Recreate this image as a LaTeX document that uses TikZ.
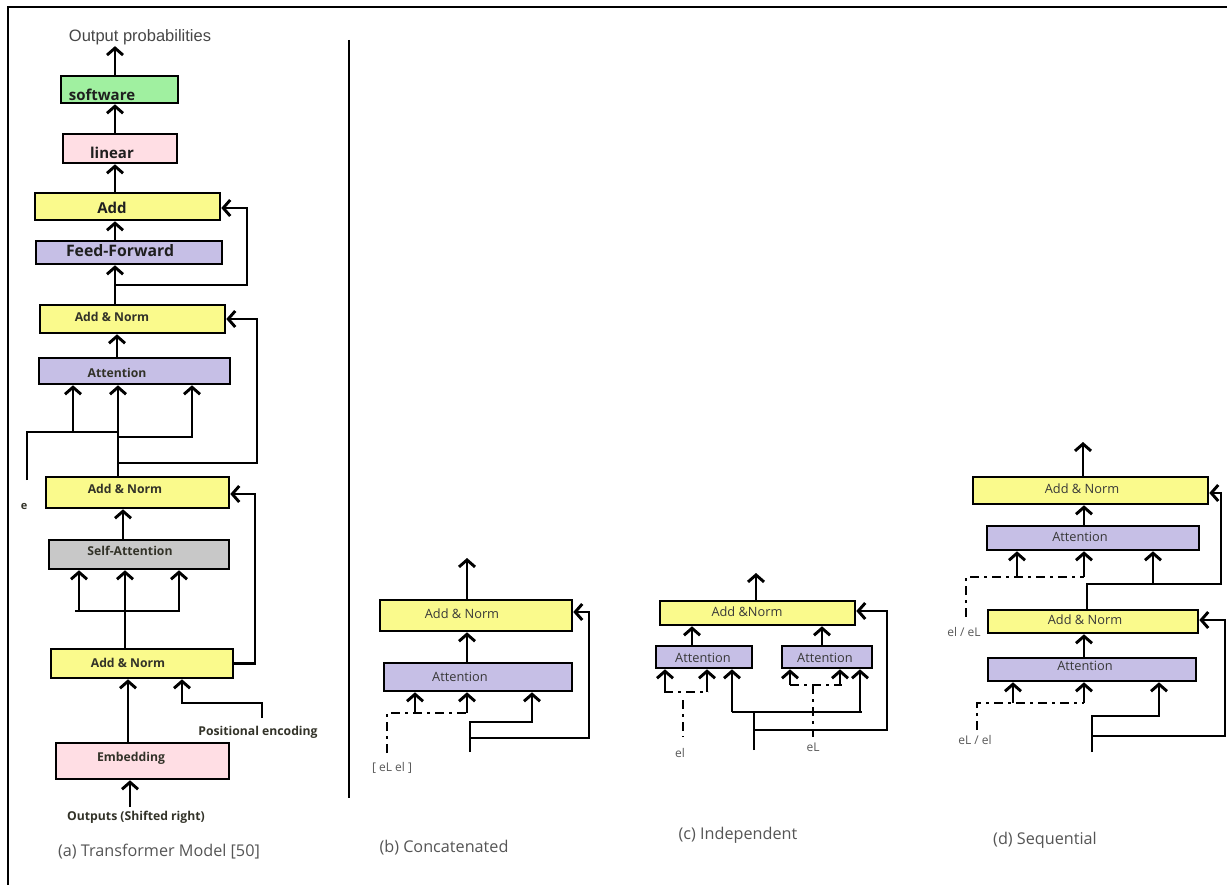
\documentclass[tikz,border=0pt]{standalone}
\usepackage{fontspec}
\setmainfont{Open Sans}
\newfontfamily\arialf{Liberation Sans}
\usetikzlibrary{arrows.meta}
\definecolor{cyel}{RGB}{250,250,140}
\definecolor{clav}{RGB}{198,191,230}
\definecolor{cpink}{RGB}{255,222,228}
\definecolor{cgreen}{RGB}{160,240,160}
\definecolor{cgray}{RGB}{200,200,200}
\definecolor{ctext}{RGB}{50,50,40}
\definecolor{ccap}{RGB}{85,85,85}
\begin{document}
\begin{tikzpicture}[x=1pt,y=-1pt,line width=2.9pt,
  box/.style={draw=black,line width=2.6pt,inner sep=0pt},
  lbl/.style={inner sep=0pt,text=ctext},
  bl/.style={lbl,font=\bfseries\fontsize{15}{17}\selectfont,text=black!88},
  bm/.style={lbl,font=\bfseries\fontsize{12.2}{14}\selectfont},
  rm/.style={lbl,font=\fontsize{12.8}{15}\selectfont,text=black!78},
  sm/.style={lbl,font=\fontsize{12}{14}\selectfont,text=black!65},
  captxt/.style={lbl,font=\fontsize{16.2}{18}\selectfont,text=ccap},
  arr/.style={-{Straight Barb[length=7pt,width=16pt]}},
  dsh/.style={dash pattern=on 9pt off 5pt on 3pt off 5pt}]
\useasboundingbox[fill=white] (0,0) rectangle (1227,885);
% frame and separator
\draw[line width=2.4pt] (8,885) -- (8,7) -- (1227,7);
\draw[line width=2.4pt] (349,40) -- (349,798);

% ---------- (a) ----------
\node[lbl,font=\arialf\fontsize{16.5}{18}\selectfont,text=black!72] (outp) at (140,37) {Output probabilities};
\node[box,fill=cgreen,minimum width=117pt,minimum height=27pt] (sw) at (119.5,89.5) {};
\node[bl] (swt) at (102,95) {software};
\node[box,fill=cpink,minimum width=114pt,minimum height=29pt] (lin) at (120,148.5) {};
\node[bl] (lint) at (112,153) {linear};
\node[box,fill=cyel,minimum width=185pt,minimum height=27pt] (add) at (127.5,206.5) {};
\node[bl] (addt) at (112,208) {Add};
\node[box,fill=clav,minimum width=186pt,minimum height=23pt] (ff) at (129,252.5) {};
\node[bl,font=\bfseries\fontsize{15.8}{17}\selectfont] (fft) at (120,251) {Feed-Forward};
\node[box,fill=cyel,minimum width=185pt,minimum height=28pt] (an1) at (132.5,319) {};
\node[bm] (an1t) at (112,317) {Add \& Norm};
\node[box,fill=clav,minimum width=191pt,minimum height=26pt] (att1) at (134.5,371) {};
\node[bm] (att1t) at (117,373) {Attention};
\node[box,fill=cyel,minimum width=183pt,minimum height=31pt] (an2) at (137.5,492.5) {};
\node[bm] (an2t) at (125,489) {Add \& Norm};
\node[box,fill=cgray,minimum width=180pt,minimum height=29pt] (sa) at (139,554.5) {};
\node[bm] (sat) at (130,551) {Self-Attention};
\node[box,fill=cyel,minimum width=182pt,minimum height=29pt] (an3) at (142,663.5) {};
\node[bm] (an3t) at (128,663) {Add \& Norm};
\node[box,fill=cpink,minimum width=173pt,minimum height=36pt] (emb) at (142.5,761) {};
\node[bm] (embt) at (131,758) {Embedding};
\node[lbl,font=\bfseries\fontsize{11}{13}\selectfont] (et) at (24,506) {e};
\node[bm] (post) at (258,732) {Positional encoding};
\node[bm] (outs) at (136,817) {Outputs (Shifted right)};
\node[captxt] (capa) at (159,852) {(a) Transformer Model [50]};

\draw[arr] (sw.north -| 115,0) -- (outp.south -| 115,0);
\draw[arr] (lin.north -| 115,0) -- (sw.south -| 115,0);
\draw[arr] (add.north -| 115,0) -- (lin.south -| 115,0);
\draw[arr] (ff.north -| 115,0) -- (add.south -| 115,0);
\draw[arr] (an1.north -| 115,0) -- (ff.south -| 115,0);
\draw[arr] (115,285) -- (247,285) -- (247,208) -- (add.east |- 0,208);
\draw[arr] (att1.north -| 117,0) -- (an1.south -| 117,0);
\draw[arr] (an2.north -| 118,0) -- (att1.south -| 118,0);
\draw[arr] (118,463) -- (257,463) -- (257,319) -- (an1.east |- 0,319);
\draw (27,480) -- (27,432) -- (118,432);
\draw[arr] (73,432) -- (att1.south -| 73,0);
\draw[arr] (118,437) -- (192,437) -- (att1.south -| 192,0);
\draw[arr] (sa.north -| 123,0) -- (an2.south -| 123,0);
\draw[arr] (an3.east) -- (255,663.5) -- (255,494) -- (an2.east |- 0,494);
\draw[arr] (an3.north -| 125,0) -- (sa.south -| 125,0);
\draw (75,611) -- (180,611);
\draw[arr] (79,611) -- (sa.south -| 79,0);
\draw[arr] (179,611) -- (sa.south -| 179,0);
\draw[arr] (emb.north -| 128,0) -- (an3.south -| 128,0);
\draw[arr] (262,718) -- (262,703) -- (182,703) -- (an3.south -| 182,0);
\draw[arr] (130,807) -- (emb.south -| 130,0);

% ---------- (b) ----------
\node[box,fill=cyel,minimum width=192pt,minimum height=31pt] (anb) at (476,615.5) {};
\node[rm] (anbt) at (462,614) {Add \& Norm};
\node[box,fill=clav,minimum width=188pt,minimum height=28pt] (attb) at (478,677) {};
\node[rm] (attbt) at (460,677) {Attention};
\node[sm] (eleb) at (392,768) {[ eL el ]};
\node[captxt] (capb) at (444,848) {(b) Concatenated};
\coordinate (outb) at (467,558);
\draw[arr] (anb.north -| 467,0) -- (outb);
\draw[arr] (attb.north -| 467,0) -- (anb.south -| 467,0);
\draw[dsh] (387,753) -- (387,713) -- (467,713);
\draw[arr] (415,713) -- (attb.south -| 415,0);
\draw[arr] (467,713) -- (attb.south -| 467,0);
\draw[arr] (470,752) -- (470,722) -- (532,722) -- (attb.south -| 532,0);
\draw[arr] (470,738) -- (589,738) -- (589,612) -- (anb.east |- 0,612);

% ---------- (c) ----------
\node[box,fill=cyel,minimum width=195pt,minimum height=24pt] (anc) at (757.5,613) {};
\node[rm] (anct) at (747,612) {Add \&Norm};
\node[box,fill=clav,minimum width=96pt,minimum height=22pt] (attl) at (704,657) {};
\node[rm] (attlt) at (703,658) {Attention};
\node[box,fill=clav,minimum width=90pt,minimum height=22pt] (attr) at (827,657) {};
\node[rm] (attrt) at (825,658) {Attention};
\node[sm] (elc) at (680,753) {el};
\node[sm] (eLc) at (813,747) {eL};
\node[captxt] (capc) at (738,835) {(c) Independent};
\coordinate (outc) at (756,573);
\draw[arr] (anc.north -| 756,0) -- (outc);
\draw[arr] (attl.north -| 692,0) -- (anc.south -| 692,0);
\draw[arr] (attr.north -| 822,0) -- (anc.south -| 822,0);
\draw[dsh] (664,692) -- (708,692);
\draw[dsh] (683,700) -- (683,737);
\draw[arr] (665,692) -- (attl.south -| 665,0);
\draw[arr] (707,692) -- (attl.south -| 707,0);
\draw[dsh] (790,685) -- (842,685);
\draw[dsh] (813,685) -- (813,737);
\draw[arr] (790,685) -- (attr.south -| 790,0);
\draw[arr] (840,685) -- (attr.south -| 840,0);
\draw (732,712) -- (862,712);
\draw[arr] (732,712) -- (attl.south -| 732,0);
\draw[arr] (860,712) -- (attr.south -| 860,0);
\draw (754,750) -- (754,712);
\draw[arr] (754,730) -- (887,730) -- (887,611) -- (anc.east |- 0,611);

% ---------- (d) ----------
\node[box,fill=cyel,minimum width=235pt,minimum height=27pt] (and1) at (1090.5,490.5) {};
\node[rm] (and1t) at (1082,489) {Add \& Norm};
\node[box,fill=clav,minimum width=212pt,minimum height=24pt] (attd1) at (1093,538) {};
\node[rm] (attd1t) at (1080,537) {Attention};
\node[box,fill=cyel,minimum width=210pt,minimum height=23pt] (and2) at (1093,621.5) {};
\node[rm] (and2t) at (1085,620) {Add \& Norm};
\node[box,fill=clav,minimum width=208pt,minimum height=23pt] (attd2) at (1092,669.5) {};
\node[rm] (attd2t) at (1085,666) {Attention};
\node[sm] (eld1) at (964,632) {el / eL};
\node[sm] (eld2) at (975,740) {eL / el};
\node[captxt] (capd) at (1045,840) {(d) Sequential};
\coordinate (outd) at (1083,442);
\draw[arr] (and1.north -| 1083,0) -- (outd);
\draw[arr] (attd1.north -| 1084,0) -- (and1.south -| 1084,0);
\draw[dsh] (966,617) -- (966,577) -- (1084,577);
\draw[arr] (1017,577) -- (attd1.south -| 1017,0);
\draw[arr] (1084,577) -- (attd1.south -| 1084,0);
\draw[arr] (and2.north -| 1087,0) -- (1087,584) -- (1221,584) -- (1221,493) -- (and1.east |- 0,493);
\draw[arr] (1153,584) -- (attd1.south -| 1153,0);
\draw[arr] (attd2.north -| 1084,0) -- (and2.south -| 1084,0);
\draw[dsh] (977,730) -- (977,703) -- (1084,703);
\draw[arr] (1013,703) -- (attd2.south -| 1013,0);
\draw[arr] (1084,703) -- (attd2.south -| 1084,0);
\draw[arr] (1092,752) -- (1092,716) -- (1159,716) -- (attd2.south -| 1159,0);
\draw[arr] (1092,736) -- (1225,736) -- (1225,620) -- (and2.east |- 0,620);
\end{tikzpicture}
\end{document}
